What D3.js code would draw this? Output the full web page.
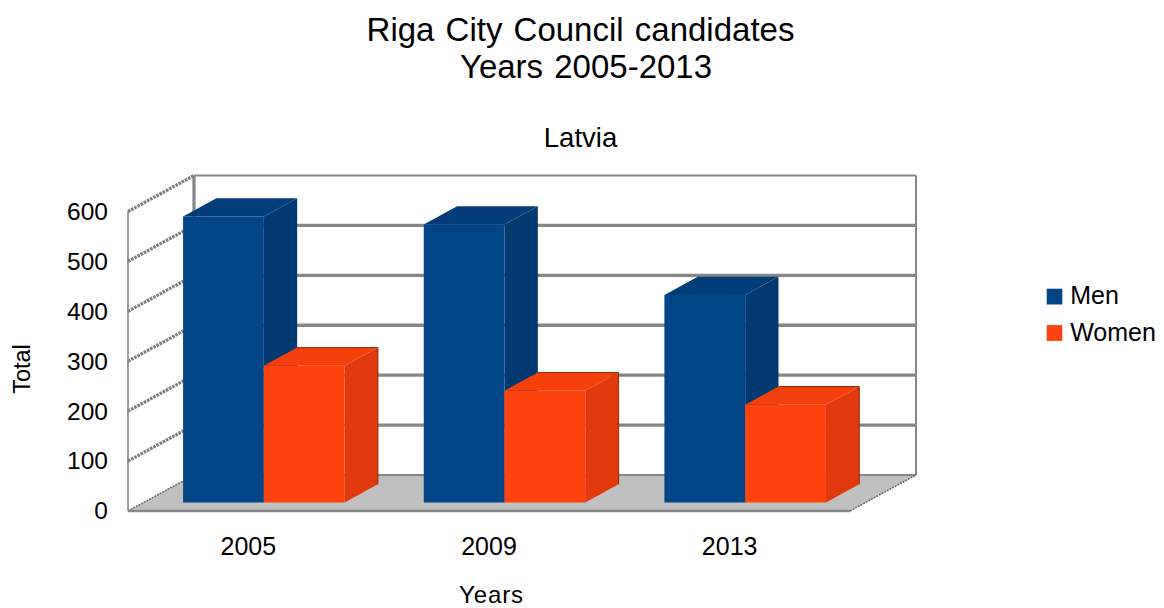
<!DOCTYPE html>
<html>
<head>
<meta charset="utf-8">
<style>
  html, body { margin: 0; padding: 0; background: #fff; }
  svg { display: block; }
  text { font-family: "Liberation Sans", Arial, sans-serif; fill: #000; }
</style>
<script src="https://cdn.jsdelivr.net/npm/d3@7/dist/d3.min.js"></script>
</head>
<body>
<svg id="chart" width="1164" height="608"></svg>
<script>
// Candidates per election year
const years = ["2005", "2009", "2013"];
const seriesNames = ["Men", "Women"];
const men = [573, 557, 416];
const women = [274, 224, 196];
const valueTicks = [0, 100, 200, 300, 400, 500, 600];
const titleLines = ["Riga City Council candidates", "Years 2005-2013"];
const subtitle = "Latvia";
const xAxisTitle = "Years";
const yAxisTitle = "Total";

const seriesValues = { Men: men, Women: women };
const shades = {
  Men:   { front: "#004586", side: "#003a70", top: "#003d79", edge: "none" },
  Women: { front: "#ff420e", side: "#e0390b", top: "#f5400c", edge: "#8a2c0c" }
};

const svg = d3.select("#chart");

// Front plane of the 3D box, plus a depth scale that shears points backwards
const x0 = d3.scaleBand().domain(years).range([128, 850]);
const x1 = d3.scaleBand().domain(seriesNames).range([0, x0.bandwidth()]).paddingInner(0).paddingOuter(0.49);
const y = d3.scaleLinear().domain([0, 600]).range([511, 211.5]);
const depthX = d3.scaleLinear().domain([0, 1]).range([0, 66]);
const depthY = d3.scaleLinear().domain([0, 1]).range([0, -36]);

const barDepth = [0.235, 0.74];
const project = (px, value, t) => [px + depthX(t), y(value) + depthY(t)];
const pathOf = pts => "M" + pts.map(p => p.join(",")).join("L") + "Z";

const LEFT = x0.range()[0], RIGHT = x0.range()[1];
const GRID = "#868686";

// Floor
svg.append("path")
  .attr("d", pathOf([project(LEFT, 0, 0), project(LEFT, 0, 1), project(RIGHT, 0, 1), project(RIGHT, 0, 0)]))
  .attr("fill", "#c0c0c0");

// Back wall gridlines
svg.append("g").selectAll("line").data(valueTicks.slice(1)).join("line")
  .attr("x1", project(LEFT, 0, 1)[0]).attr("x2", project(RIGHT, 0, 1)[0])
  .attr("y1", d => project(LEFT, d, 1)[1]).attr("y2", d => project(LEFT, d, 1)[1])
  .attr("stroke", GRID).attr("stroke-width", d => d === 600 ? 2 : 3.4);
svg.append("line")
  .attr("x1", project(LEFT, 0, 1)[0]).attr("x2", project(RIGHT, 0, 1)[0])
  .attr("y1", project(LEFT, 0, 1)[1]).attr("y2", project(LEFT, 0, 1)[1])
  .attr("stroke", GRID).attr("stroke-width", 2);

// Back wall verticals
svg.append("line")
  .attr("x1", project(LEFT, 0, 1)[0]).attr("x2", project(LEFT, 0, 1)[0])
  .attr("y1", project(LEFT, 600, 1)[1]).attr("y2", project(LEFT, 0, 1)[1])
  .attr("stroke", GRID).attr("stroke-width", 3.2);
svg.append("line")
  .attr("x1", project(RIGHT, 0, 1)[0]).attr("x2", project(RIGHT, 0, 1)[0])
  .attr("y1", project(RIGHT, 600, 1)[1]).attr("y2", project(RIGHT, 0, 1)[1])
  .attr("stroke", GRID).attr("stroke-width", 2);

// Side wall gridlines, drawn with a rough broken stroke
svg.append("g").selectAll("line").data(valueTicks.slice(1)).join("line")
  .attr("x1", project(LEFT, 0, 0)[0]).attr("x2", project(LEFT, 0, 1)[0])
  .attr("y1", d => project(LEFT, d, 0)[1]).attr("y2", d => project(LEFT, d, 1)[1])
  .attr("stroke", "#7c7c7c").attr("stroke-width", 3.2).attr("stroke-dasharray", "2.6 1");

// Floor edges
svg.append("line")
  .attr("x1", project(LEFT, 0, 0)[0]).attr("y1", project(LEFT, 0, 0)[1])
  .attr("x2", project(LEFT, 0, 1)[0]).attr("y2", project(LEFT, 0, 1)[1])
  .attr("stroke", "#666").attr("stroke-width", 1.5).attr("stroke-dasharray", "2 1");
svg.append("line")
  .attr("x1", project(RIGHT, 0, 0)[0]).attr("y1", project(RIGHT, 0, 0)[1])
  .attr("x2", project(RIGHT, 0, 1)[0]).attr("y2", project(RIGHT, 0, 1)[1])
  .attr("stroke", "#666").attr("stroke-width", 1.5).attr("stroke-dasharray", "2 1");
svg.append("line")
  .attr("x1", LEFT).attr("x2", RIGHT).attr("y1", y(0)).attr("y2", y(0))
  .attr("stroke", GRID).attr("stroke-width", 2.4);
svg.append("line")
  .attr("x1", LEFT).attr("x2", LEFT).attr("y1", y(600)).attr("y2", y(0))
  .attr("stroke", GRID).attr("stroke-width", 1.6);

// Bars: top, side and front faces for each series in each year
const bars = years.flatMap((year, i) =>
  seriesNames.map(name => ({ year, name, value: seriesValues[name][i] })));

const bar = svg.append("g").selectAll("g").data(bars).join("g");
const [d0, d1] = barDepth;
const xl = d => x0(d.year) + x1(d.name);
const xr = d => xl(d) + x1.bandwidth();

bar.append("path")
  .attr("fill", d => shades[d.name].top)
  .attr("d", d => pathOf([project(xl(d), d.value, d0), project(xl(d), d.value, d1), project(xr(d), d.value, d1), project(xr(d), d.value, d0)]));
bar.append("path")
  .attr("fill", d => shades[d.name].side)
  .attr("d", d => pathOf([project(xr(d), 0, d0), project(xr(d), d.value, d0), project(xr(d), d.value, d1), project(xr(d), 0, d1)]));
bar.append("path")
  .attr("fill", d => shades[d.name].front)
  .attr("d", d => pathOf([project(xl(d), 0, d0), project(xl(d), d.value, d0), project(xr(d), d.value, d0), project(xr(d), 0, d0)]));
// Thin dark line along the rear top and rear right edges
bar.append("path")
  .attr("fill", "none")
  .attr("stroke", d => shades[d.name].edge)
  .attr("stroke-width", 1)
  .attr("d", d => "M" + [project(xl(d), d.value, d1), project(xr(d), d.value, d1), project(xr(d), 0, d1)].map(p => p.join(",")).join("L"));

const fontStack = '"Liberation Sans", Arial, sans-serif';

// Value axis labels
const yAxis = d3.axisLeft(y).tickValues(valueTicks).tickSize(0).tickPadding(20);
svg.append("g").attr("transform", `translate(${LEFT},0)`).call(yAxis)
  .call(g => g.select(".domain").remove())
  .call(g => g.selectAll("text").attr("font-size", 24.5)
    .style("font-family", fontStack).attr("fill", "#000"));

// Year labels
const xAxis = d3.axisBottom(x0).tickSize(0).tickPadding(26);
svg.append("g").attr("transform", `translate(0,${y(0)})`).call(xAxis)
  .call(g => g.select(".domain").remove())
  .call(g => g.selectAll("text").attr("font-size", 25)
    .style("font-family", fontStack).attr("fill", "#000"));

// Titles
svg.append("g").selectAll("text").data(titleLines).join("text")
  .attr("x", (d, i) => i === 0 ? 580.5 : 586).attr("y", (d, i) => 41 + i * 37)
  .attr("text-anchor", "middle").attr("font-size", 33)
  .attr("word-spacing", 2).text(d => d);
svg.append("text").attr("x", 580.5).attr("y", 147)
  .attr("text-anchor", "middle").attr("font-size", 27.5).text(subtitle);
svg.append("text").attr("x", 491.5).attr("y", 603)
  .attr("text-anchor", "middle").attr("font-size", 24).attr("letter-spacing", 0.9).text(xAxisTitle);
svg.append("text").attr("transform", "translate(30,369) rotate(-90)")
  .attr("text-anchor", "middle").attr("font-size", 23.5).text(yAxisTitle);

// Legend
const legend = svg.append("g").selectAll("g").data(seriesNames).join("g")
  .attr("transform", (d, i) => `translate(1046.7,${288.7 + i * 36.4})`);
legend.append("rect").attr("width", 15.6).attr("height", 15.8).attr("fill", d => shades[d].front);
legend.append("text").attr("x", 23.5).attr("y", 15.7).attr("font-size", 25).text(d => d);
</script>
</body>
</html>
